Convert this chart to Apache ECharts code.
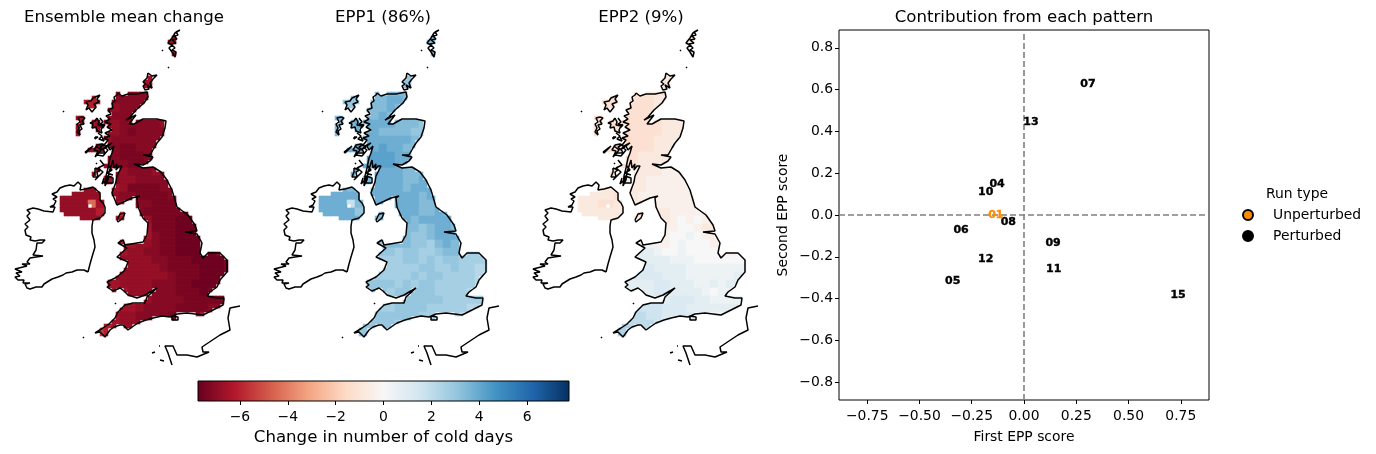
<!DOCTYPE html>
<html><head><meta charset="utf-8">
<style>html,body{margin:0;padding:0;background:#fff}#c{width:1376px;height:454px}</style>
<script src="https://cdn.jsdelivr.net/npm/echarts@6/dist/echarts.min.js"></script>
</head><body><div id="c"></div>
<script>
// ---------- map outlines, in map grid units ----------
const greatBritain=[[118,93],[122,96],[128,94],[137,94],[147,92],[148,97],[144,103],[136,110],[130,117],[126,120],[136,115],[129,124],[134,124],[143,119],[157,119],[166,121],[165,128],[162,137],[157,143],[154,148],[150,155],[143,155],[153,157],[150,161],[143,165],[134,164],[143,168],[153,167],[161,172],[167,180],[172,190],[177,207],[188,215],[195,225],[197,231],[185,232],[197,234],[202,243],[200,253],[203,258],[208,253],[220,253],[227,260],[227,272],[220,280],[217,287],[210,292],[207,296],[217,298],[224,298],[223,305],[213,310],[203,315],[187,313],[177,314],[170,317],[162,316],[153,318],[146,320],[138,323],[135,325],[128,330],[123,325],[120,325],[114,327],[110,330],[105,337],[100,332],[95,333],[103,328],[109,324],[115,318],[118,312],[125,305],[133,303],[145,303],[147,297],[157,288],[145,295],[137,298],[128,295],[124,291],[120,288],[113,291],[107,287],[110,285],[107,282],[117,277],[125,270],[128,262],[117,257],[127,248],[118,243],[123,240],[125,245],[143,242],[147,235],[148,223],[143,218],[138,207],[137,198],[140,196],[132,198],[117,205],[112,193],[113,190],[116,182],[117,176],[120,170],[122,166],[119,166],[116,170],[117,164],[114,168],[113,160],[111,166],[109,172],[108,180],[105,186],[103,184],[106,176],[108,168],[106,166],[110,158],[112,153],[114,146],[110,150],[108,146],[112,143],[106,146],[103,150],[100,147],[105,144],[108,140],[104,138],[110,136],[105,133],[112,130],[107,127],[111,124],[105,122],[110,119],[106,116],[111,114],[108,110],[113,108],[112,103],[115,101],[114,97],[117,95],[118,93]];
const scottishIslands=[
 [[100,95],[97,99],[99,102],[94,104],[96,107],[92,112],[89,108],[86,110],[88,105],[86,102],[91,101],[93,98],[100,95]],
 [[82,117],[85,118],[82,121],[84,124],[80,125],[82,129],[79,131],[80,135],[78,137],[77,132],[79,128],[77,124],[80,122],[78,118],[82,117]],
 [[97,118],[99,122],[98,125],[103,126],[105,128],[101,130],[102,133],[97,131],[95,130],[96,127],[92,128],[93,124],[90,123],[95,121],[97,118]],
 [[97,145],[102,144],[107,147],[103,149],[105,153],[99,153],[95,157],[98,151],[94,150],[97,145]],
 [[95,168],[100,170],[97,172],[98,177],[93,177],[92,175],[95,172],[95,168]],
 [[107,176],[113,178],[113,183],[107,183],[107,176]],
 [[85,152],[93,146],[94,148],[86,153],[85,152]],
 [[95,137],[98,137],[98,139],[95,139],[95,137]],
 [[148,73],[152,76],[157,75],[153,79],[155,81],[150,83],[152,88],[147,85],[149,89],[145,90],[143,86],[146,84],[143,82],[147,78],[148,73]],
 [[180,30],[176,32],[178,35],[174,36],[177,39],[172,40],[176,43],[171,44],[175,48],[172,50],[176,52],[175,57],[173,58],[172,52],[169,48],[172,45],[168,43],[172,38],[175,33],[180,30]],
 [[117,220],[120,214],[125,213],[123,218],[118,222],[117,220]],
 [[172,316],[178,317],[178,320],[172,320],[172,316]]
];
const tinyIslands=[[[63,111],[64,112]],[[168,67],[169,68]],[[162,50],[163,51]],[[115,303],[116,304]],[[83,337],[84,338]],[[152,353],[155,352]],[[160,360],[164,361]],[[159,346],[160,346]],[[96,163],[97,164]]];
const skerries=[[[100,118],[103,122],[100,124],[105,125],[102,128]],[[98,133],[102,136],[99,139],[104,141],[102,137]],[[96,146],[101,150],[97,155],[103,156],[108,150],[104,147]],[[100,160],[104,165],[98,168],[103,172],[99,176],[95,180]],[[108,165],[112,170],[107,173],[113,175]],[[104,178],[102,184],[106,180]]];
const ireland=[[88,272],[84,270],[80,270],[77,270],[72,272],[66,273],[63,275],[58,277],[52,279],[50,281],[44,284],[42,287],[36,287],[30,289],[27,288],[25,284],[30,283],[23,283],[24,280],[18,280],[15,277],[20,276],[16,273],[22,272],[15,269],[17,267],[27,266],[22,264],[30,264],[27,262],[30,258],[36,257],[43,256],[45,258],[43,255],[33,255],[36,250],[34,248],[37,243],[42,243],[45,240],[40,240],[35,241],[30,240],[31,237],[26,235],[25,230],[28,227],[25,224],[30,220],[27,216],[30,213],[27,210],[33,208],[38,209],[44,211],[53,212],[55,207],[50,207],[54,205],[56,201],[53,199],[57,197],[52,194],[57,192],[55,190],[60,188],[65,186],[70,185],[74,186],[78,182],[81,185],[80,190],[86,189],[93,187],[100,193],[100,200],[103,203],[105,207],[105,213],[100,218],[93,220],[92,226],[92,233],[94,240],[95,247],[92,257],[90,264],[88,272]];
const france=[[240,306],[230,308],[228,318],[230,330],[220,335],[208,343],[202,347],[203,352],[209,352],[197,357],[187,355],[177,355],[173,346],[165,346],[168,353],[172,365]];
const northernIrelandMask=[[62,197],[73,193],[93,187],[100,193],[105,207],[105,213],[97,220],[88,221],[82,222],[82,217],[68,217],[62,212]];
const loughNeagh=[[88,203],[93,203],[93,208],[88,208]];

// ---------- gridded values: one letter per 8-unit cell, letter = level ----------
const cellOrigin=[56,24], coarseCell=8, fineCell=4;
const meanLevels={a:-7.6,b:-7.35,c:-7.1,d:-6.8,e:-6.5,f:-6.1,g:-5.4,h:-4.4,i:-3};
const epp1Levels={a:4.6,b:4.2,c:3.8,d:3.4,e:3.0,f:2.6,g:2.2,h:1.8,i:1.0};
const epp2Levels={a:-1.6,b:-1.2,c:-0.8,d:-0.4,e:0,f:0.4,g:0.8,h:1.2,i:1.6,j:2.0,k:2.4};
const meanRows=["","..............ee......","..............ee......","..............dd......","..............dd......","","...........ee.........","...........ee.........",
"....ff..cccce.........","....ff.ccccce.........","...fff.dcccce.........","...ee.dcccccf.........","...eedddcccccdde......","...eedddcbcccccce.....","...e.edccccccccce.....","....ddccbbcccccce.....","....ddccbbbcccce......","....dedccbbccccf......","....ddccdcccdcf.......","....ddecddccccdf......","...ddddedbbbbccdf.....","..dddddd.cbbbbccf.....","..ddhedd...cbbbbbcf...","..dddfdg..cbbbbbab....","..ddddde...dbbbaaac...","...........ebbbaaaab..","...........ecbbaaaaab.","........fe.dcbbaaaaac.","........eddccbbaaaaac.","........ddddccbbbaaaab",".........ddddcbbbbaaab",".........dddddcbbbaaab",".......eddddcccbbaaab.",".......eedddcccbbbabe.","..........fdccccbbbbbd",".........edccccbbbbccf",".......eddccccbbcce...","......fedddcef........",".....gfeee............",".....ff..............."];
const epp1Rows=["","..............dd......","..............dd......","..............dd......","..............dd......","","...........ee.........","...........ee.........",
"....ee..ddddf.........","....ee.ddccde.........","...eee.ddcdde.........","...dd.ddcddde.........","...ddcccccdddeef......","...ddcccddddeefg......","...d.cccccccddeff.....","....ccccbccdddef......","....ccbbbbccddef......","....cbcbbbccdde.......","....cccbcccddde.......","....ccdccccddccd......","...cdcdccccdcccd......","..cccccc.ccccdcdd.....","..cchdcc...ccddcde....","..cccecd..cccddcde....","..cccccd...cdcccce....","...........ddedccdd...","...........deedccce...","........ed.deefdcdde..","........eefeeffeddef..","........fffeefefeefff.",".........ffffeeffeffgg",".........fffefeeffffgh",".......eeefefeefffffg.",".......eefeeeeeffffg..","..........feeeeefffff.",".........feeeefffffggh",".......eeeeeefffffg...","......eeeefff.........",".....eeeee............",".....dd..............."];
const epp2Rows=["","..............cc......","..............cc......","..............cc......","..............cc......","","...........cc.........","...........cc.........",
"....bb..cccbc.........","....bb.bbbccc.........","...bbb.bbbccd.........","...bb.abbbccd.........","...bbbabbbbcccd.......","...bbbabbbbcccdd......","...b.babbbcccccd......","....bbbbbbcccdd.......","....bbbbcccccde.......","....bbbbcccccdd.......","....bcbccccdddd.......","....cccccdddddd.......","...ccccccdddddde......","..cccbcc.ddddddde.....","..cbbcbc...ddddddd....","..cccccc..ccddddcc....","..cccccc...cdededcc...","...........ddeedcc....","...........deefeddc...","........ef.defeeedd...","........ggfeefeeeed...","........ggggfffeeeeee.",".........hggggffffffff",".........hhgggffffffgf",".......ggghhgggffgfgg.",".......ggghhggggfeffg.","..........gghhhggffff.",".........iihhhgggggggg",".......jjiihhhhggfff..","......kjjjihh.........",".....kkjjj............",".....jj..............."];

// ---------- scatter values ----------
const memberLabels=["07","13","04","10","08","06","09","12","11","05","15"];
const firstScore=[0.306,0.033,-0.129,-0.183,-0.075,-0.301,0.139,-0.183,0.142,-0.341,0.737];
const secondScore=[0.635,0.453,0.154,0.115,-0.027,-0.064,-0.128,-0.203,-0.251,-0.308,-0.375];
const unperturbedLabel="01", unperturbedFirst=-0.135, unperturbedSecond=0.008;
const scoreTicks=[-0.75,-0.5,-0.25,0,0.25,0.5,0.75];
const scoreTicksY=[-0.8,-0.6,-0.4,-0.2,0,0.2,0.4,0.6,0.8];
const colorTicks=[-6,-4,-2,0,2,4,6];
const rdbu=["#67001f","#b2182b","#d6604d","#f4a582","#fddbc7","#f7f7f7","#d1e5f0","#92c5de","#4393c3","#2166ac","#053061"];

const FONT="DejaVu Sans", SCORE_LIM=0.885, COLOR_LIM=7.75, MAP_STEP=259;

function inside(p,x,y){let c=false;for(let i=0,j=p.length-1;i<p.length;j=i++){
  if((p[i][1]>y)!==(p[j][1]>y)&&x<(p[j][0]-p[i][0])*(y-p[i][1])/(p[j][1]-p[i][1])+p[i][0])c=!c;}return c;}
const landMasks=[greatBritain,northernIrelandMask,...scottishIslands];
function cellsFrom(rows,levels){
  const out=[];
  for(let y=cellOrigin[1];y<344;y+=fineCell)for(let x=cellOrigin[0];x<232;x+=fineCell){
    const cx=x+fineCell/2,cy=y+fineCell/2;
    if(!landMasks.some(m=>inside(m,cx,cy))||inside(loughNeagh,cx,cy))continue;
    const r=rows[Math.floor((y-cellOrigin[1])/coarseCell)]||"";
    const ch=r[Math.floor((x-cellOrigin[0])/coarseCell)];
    let v=levels[ch];
    if(v===undefined){ // nearest filled neighbour in the same row
      for(let d=1;d<6&&v===undefined;d++){const k=Math.floor((x-cellOrigin[0])/coarseCell);v=levels[r[k+d]]??levels[r[k-d]];}
      if(v===undefined)continue;
    }
    out.push([cx,cy,v]);
  }
  return out;
}
const outlines=[greatBritain,...scottishIslands,...tinyIslands,...skerries,ireland,france];
const coastData=[];outlines.forEach(o=>{o.forEach(p=>coastData.push(p));coastData.push([null,null]);});

const grids=[],xAxes=[],yAxes=[],series=[];
[[meanRows,meanLevels],[epp1Rows,epp1Levels],[epp2Rows,epp2Levels]].forEach(([rows,levels],i)=>{
  grids.push({left:MAP_STEP*i,top:20,width:MAP_STEP,height:350});
  xAxes.push({type:'value',gridIndex:i,min:0,max:MAP_STEP,show:false});
  yAxes.push({type:'value',gridIndex:i,min:20,max:370,inverse:true,show:false});
  series.push({type:'scatter',xAxisIndex:i,yAxisIndex:i,data:cellsFrom(rows,levels),symbol:'rect',symbolSize:4.6,silent:true,z:2,itemStyle:{opacity:1}});
  series.push({type:'line',xAxisIndex:i,yAxisIndex:i,data:coastData,showSymbol:false,symbol:'none',connectNulls:false,silent:true,z:3,lineStyle:{color:'#000',width:1.5}});
});
const heatSeries=[0,2,4];

const axisText={color:'#000',fontFamily:FONT,fontSize:13.9};
const fmt=d=>v=>(d?v.toFixed(d):String(v)).replace('-','\u2212');
// scatter panel : grid 3
grids.push({left:839,top:30,width:370,height:370,show:true,borderColor:'#000',borderWidth:1,backgroundColor:'transparent'});
xAxes.push({type:'value',gridIndex:3,min:-SCORE_LIM,max:SCORE_LIM,splitLine:{show:false},axisLine:{show:false,onZero:false},
  axisTick:{show:true,length:4,lineStyle:{color:'#000'},customValues:scoreTicks},
  axisLabel:{...axisText,margin:9,customValues:scoreTicks,formatter:fmt(2)},
  name:'First EPP score',nameLocation:'middle',nameGap:30,nameTextStyle:{...axisText}});
yAxes.push({type:'value',gridIndex:3,min:-SCORE_LIM,max:SCORE_LIM,splitLine:{show:false},axisLine:{show:false,onZero:false},
  axisTick:{show:true,length:4,lineStyle:{color:'#000'},customValues:scoreTicksY},
  axisLabel:{...axisText,margin:6,customValues:scoreTicksY,formatter:fmt(1),padding:[2,0,0,0]},
  name:'Second EPP score',nameLocation:'middle',nameGap:49,nameTextStyle:{...axisText}});
const dash={type:'line',xAxisIndex:3,yAxisIndex:3,showSymbol:false,symbol:'none',silent:true,z:2,lineStyle:{color:'#808080',width:1.6,type:[6,3]}};
series.push({...dash,data:[[-SCORE_LIM,0],[SCORE_LIM,0]]});
series.push({...dash,data:[[0,-SCORE_LIM],[0,SCORE_LIM]]});
const pointLabel=c=>({show:true,position:'inside',offset:[0,1.5],formatter:p=>p.value[2],color:c,opacity:1,fontFamily:FONT,fontWeight:'bold',fontSize:11,textBorderColor:c,textBorderWidth:0.4});
series.push({type:'scatter',name:'Perturbed',xAxisIndex:3,yAxisIndex:3,symbolSize:0,z:4,silent:true,
  itemStyle:{color:'#000',borderColor:'#000',borderWidth:1,opacity:1},label:pointLabel('#000'),
  data:memberLabels.map((m,i)=>[firstScore[i],secondScore[i],m])});
series.push({type:'scatter',name:'Unperturbed',xAxisIndex:3,yAxisIndex:3,symbolSize:0,z:4,silent:true,
  itemStyle:{color:'#ff8c00',borderColor:'#000',borderWidth:1,opacity:1},label:pointLabel('#ff8c00'),
  data:[[unperturbedFirst,unperturbedSecond,unperturbedLabel]]});
// colour bar : grid 4
grids.push({left:198,top:381,width:371,height:20});
xAxes.push({type:'value',gridIndex:4,min:-COLOR_LIM,max:COLOR_LIM,splitLine:{show:false},axisLine:{show:false,onZero:false},
  axisTick:{show:true,length:4,lineStyle:{color:'#000'},customValues:colorTicks},
  axisLabel:{...axisText,margin:9,customValues:colorTicks,formatter:fmt(0)},
  name:'Change in number of cold days',nameLocation:'middle',nameGap:28,nameTextStyle:{...axisText,fontSize:16.6}});
yAxes.push({type:'value',gridIndex:4,min:0,max:1,show:false});
series.push({type:'custom',xAxisIndex:4,yAxisIndex:4,silent:true,clip:false,data:[[-COLOR_LIM,0,COLOR_LIM,1]],
  renderItem(params,api){const a=api.coord([api.value(0),api.value(3)]),b=api.coord([api.value(2),api.value(1)]);
    return {type:'rect',shape:{x:a[0],y:a[1],width:b[0]-a[0],height:b[1]-a[1]},
      style:{stroke:'#000',lineWidth:1,fill:new echarts.graphic.LinearGradient(0,0,1,0,rdbu.map((c,i)=>({offset:i/(rdbu.length-1),color:c})))}};}});

const titleText=(text,left,top,size)=>({text,left,top,textAlign:'center',textStyle:{color:'#000',fontFamily:FONT,fontWeight:'normal',fontSize:size||16.6}});
const chart=echarts.init(document.getElementById('c'),null,{renderer:'canvas'});
chart.setOption({
  animation:false,backgroundColor:'#fff',
  title:[titleText('Ensemble mean change',119,4),titleText('EPP1 (86%)',378,4),titleText('EPP2 (9%)',636,4),titleText('Contribution from each pattern',1019,4),
    {text:'Run type',left:1261,top:182,textStyle:{color:'#000',fontFamily:FONT,fontWeight:'normal',fontSize:13.9}}],
  grid:grids,xAxis:xAxes,yAxis:yAxes,series,
  visualMap:{type:'continuous',show:false,min:-COLOR_LIM,max:COLOR_LIM,dimension:2,seriesIndex:heatSeries,inRange:{color:rdbu}},
  legend:{show:true,orient:'vertical',left:1237,top:203,itemWidth:10,itemHeight:10,itemGap:7,icon:'circle',selectedMode:false,
    data:['Unperturbed','Perturbed'],textStyle:{...axisText,padding:[0,0,0,15]}}
});
</script></body></html>
